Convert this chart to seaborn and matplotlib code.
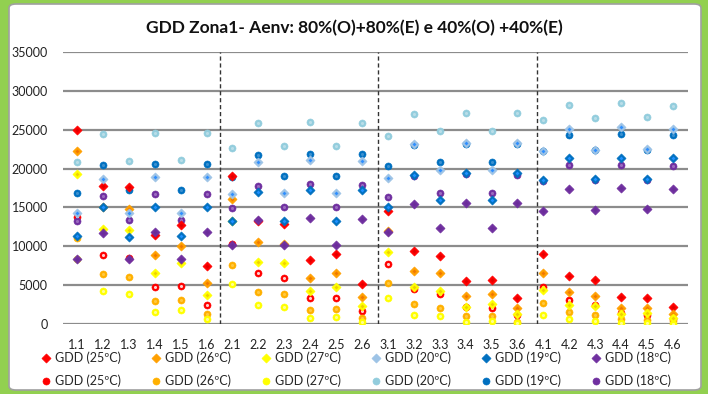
import numpy as np
import pandas as pd
import seaborn as sns
import matplotlib.pyplot as plt
from matplotlib.patches import FancyBboxPatch

# ------------------------------
# data
# ------------------------------
categories = ["1.1", "1.2", "1.3", "1.4", "1.5", "1.6",
              "2.1", "2.2", "2.3", "2.4", "2.5", "2.6",
              "3.1", "3.2", "3.3", "3.4", "3.5", "3.6",
              "4.1", "4.2", "4.3", "4.4", "4.5", "4.6"]

# 80%(O)+80%(E) -> diamonds
d25 = [25000, 17700, 17600, 11500, 12700, 7400,
       19100, 13200, 12900, 8200, 9000, 5100,
       14600, 9400, 8800, 5500, 5700, 3300,
       9000, 6200, 5600, 3500, 3400, 2200]
d26 = [22200, 15000, 14800, 8900, 10100, 5300,
       16100, 10500, 10300, 5900, 6500, 3500,
       12000, 6800, 6500, 3600, 3900, 2000,
       6500, 4100, 3600, 2100, 2100, 1300]
d27 = [19300, 12200, 12100, 6500, 7800, 3700,
       13300, 8000, 7800, 4200, 4800, 2300,
       9300, 4700, 4300, 2200, 2600, 1300,
       4400, 2500, 2300, 1300, 1400, 800]
d20 = [14300, 18600, 14300, 18900, 14300, 18900,
       16700, 20800, 16800, 21100, 16800, 21000,
       18800, 23100, 19800, 23300, 19800, 23300,
       22300, 25100, 22400, 25300, 22500, 25100]
d19 = [11300, 15000, 11200, 15100, 11300, 15100,
       13300, 17000, 13300, 17300, 13300, 17200,
       15100, 19200, 15900, 19400, 15900, 19400,
       18500, 21300, 18600, 21400, 18700, 21300]
d18 = [8400, 11700, 8400, 11800, 8400, 11800,
       10200, 13400, 10200, 13600, 10200, 13500,
       11800, 15400, 12300, 15600, 12300, 15600,
       14600, 17400, 14700, 17500, 14800, 17400]

# 40%(O)+40%(E) -> circles
c25 = [13800, 8900, 8500, 4800, 4900, 2500,
       10300, 6500, 5900, 3300, 3300, 1700,
       7700, 4500, 3900, 2200, 2000, 1100,
       4800, 3100, 2400, 1400, 1100, 700]
c26 = [11100, 6400, 6000, 2900, 3100, 1300,
       7600, 4100, 3800, 1800, 1900, 800,
       5300, 2600, 2100, 1000, 1000, 300,
       2700, 1500, 1100, 600, 500, 400]
c27 = [8400, 4200, 3900, 1500, 1800, 600,
       5200, 2400, 2200, 800, 900, 200,
       3300, 1200, 1000, 300, 400, 100,
       1200, 600, 400, 100, 100, 0]
c20 = [20800, 24400, 21000, 24600, 21100, 24600,
       22700, 25800, 22900, 26000, 22900, 25900,
       24200, 27000, 24800, 27200, 24800, 27200,
       26300, 28200, 26500, 28400, 26600, 28100]
c19 = [16900, 20400, 17200, 20600, 17200, 20600,
       18900, 21800, 19000, 21900, 19000, 21900,
       20300, 23000, 20900, 23200, 20900, 23200,
       22300, 24300, 22400, 24400, 22400, 24300]
c18 = [13200, 16500, 13400, 16700, 13400, 16700,
       14900, 17800, 15000, 18000, 15000, 17900,
       16300, 19100, 16900, 19300, 16900, 19200,
       18400, 20400, 18500, 20500, 18500, 20300]

labels = ["GDD (25ºC)", "GDD (26ºC)", "GDD (27ºC)",
          "GDD (20ºC)", "GDD (19ºC)", "GDD (18ºC)"]
diamond_colors = ["#FF0000", "#FFA000", "#FFFF00", "#9DC3E6", "#0070C0", "#7030A0"]
diamond_inner = ["#E00000", "#F07800", "#F0D000", "#2F8FFF", "#1E90FF", "#6A2C99"]
circle_colors = ["#FF0000", "#FFB000", "#FFFF00", "#93CDDD", "#0070C0", "#7030A0"]
circle_inner = ["#FFD0D0", "#FFC840", "#FFFF90", "#B8DDE8", "#3A90D0", "#9A6AC0"]

diamonds = [d25, d26, d27, d20, d19, d18]
circles = [c25, c26, c27, c20, c19, c18]
separators = [5.5, 11.6, 17.75]

# ------------------------------
# figure
# ------------------------------
sns.set_theme(style="white")
plt.rcParams["font.family"] = ["Lato", "DejaVu Sans"]

fig = plt.figure(figsize=(7.08, 3.94), dpi=100, facecolor="#92D050")
fig.patches.append(FancyBboxPatch((9 / 708, 4 / 394), 692 / 708, 386 / 394,
                                  boxstyle="round,pad=0,rounding_size=0.01",
                                  transform=fig.transFigure, facecolor="white",
                                  edgecolor="#A0A0A0", linewidth=1.2, zorder=-5))

ax = fig.add_axes([63 / 708, 1 - 324 / 394, 625 / 708, 272 / 394])
ax.set_facecolor("none")
ax.set_zorder(2)

x = np.arange(len(categories))

handles_c = []
for vals, col, inner in zip(circles, circle_colors, circle_inner):
    df = pd.DataFrame({"x": x, "y": vals})
    sns.scatterplot(data=df, x="x", y="y", marker="o", s=26, color=col,
                    edgecolor=col, linewidth=0.4, ax=ax, zorder=3)
    handles_c.append(ax.collections[-1])
    sns.scatterplot(data=df, x="x", y="y", marker="o", s=5, color=inner,
                    linewidth=0, ax=ax, zorder=3)

handles_d = []
for vals, col, inner in zip(diamonds, diamond_colors, diamond_inner):
    df = pd.DataFrame({"x": x, "y": vals})
    sns.scatterplot(data=df, x="x", y="y", marker="D", s=22, color=col,
                    edgecolor=col, linewidth=0.4, ax=ax, zorder=4)
    handles_d.append(ax.collections[-1])
    sns.scatterplot(data=df, x="x", y="y", marker="D", s=4, color=inner,
                    linewidth=0, ax=ax, zorder=4)

for sx in separators:
    ax.plot([sx, sx], [0, 35000], color="#333333", linestyle=(0, (3, 2)),
            linewidth=1.0, zorder=2)

ax.set_xlim(-0.54, 23.58)
ax.set_ylim(0, 35000)
ax.set_yticks(range(0, 35001, 5000))
ax.set_xticks(x)
ax.set_xticklabels(categories)
ax.grid(axis="y", color="#8C8C8C", linewidth=1.6, zorder=1)
ax.grid(axis="x", visible=False)
ax.set_axisbelow(True)
for s in ax.spines.values():
    s.set_visible(False)
ax.tick_params(axis="both", length=0, labelsize=9, colors="#222222")
ax.tick_params(axis="x", pad=11)
ax.tick_params(axis="y", pad=11)
ax.set_xlabel("")
ax.set_ylabel("")
if ax.get_legend() is not None:
    ax.get_legend().remove()

fig.text(0.5, 1 - 28 / 394, "GDD Zona1- Aenv: 80%(O)+80%(E) e 40%(O) +40%(E)",
         ha="center", va="center", fontsize=12.5, fontweight="bold", color="#111111")

# legend: diamonds on first row, circles on second row
handles = []
leg_labels = []
for hd, hc, lab in zip(handles_d, handles_c, labels):
    handles += [hd, hc]
    leg_labels += [lab, lab]
fig.legend(handles, leg_labels, ncol=6, loc="upper left",
           bbox_to_anchor=(41 / 708, 1 - 351 / 394), frameon=False,
           fontsize=9, handlelength=0.8, handletextpad=0.3,
           columnspacing=2.42, labelspacing=0.85, borderpad=0, borderaxespad=0)

plt.savefig("out.png", dpi=100, facecolor=fig.get_facecolor())
